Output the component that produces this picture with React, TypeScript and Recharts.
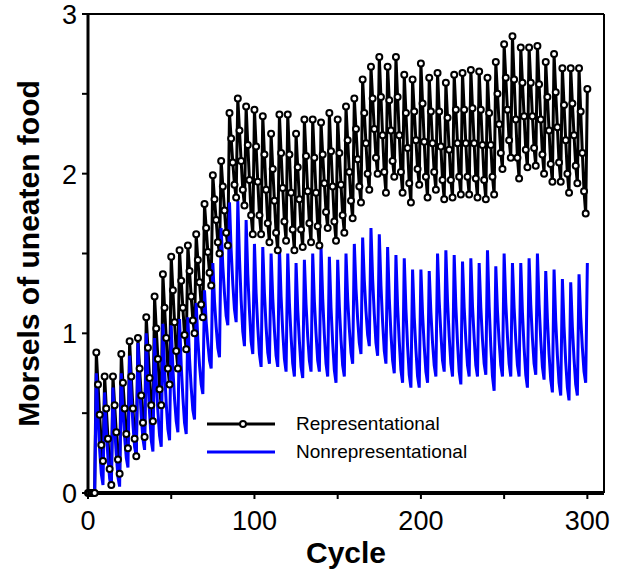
import { LineChart, Line, XAxis, YAxis, ReferenceLine, Label } from 'recharts';

// ── Data (one value per cycle, 0..300) ───────────────────────────────────────

const representational = [
  0, 0, 0, 0,
  0.00, 0.88, 0.68, 0.49, 0.30,
  0.20, 0.73, 0.53, 0.34, 0.15,
  0.05, 0.73, 0.55, 0.38, 0.21,
  0.12, 0.87, 0.69, 0.53, 0.37,
  0.28, 0.95, 0.73, 0.53, 0.34,
  0.23, 0.97, 0.78, 0.61, 0.44,
  0.35, 1.10, 0.91, 0.72, 0.55,
  0.45, 1.23, 1.03, 0.84, 0.65,
  0.55, 1.37, 1.16, 0.97, 0.78,
  0.68, 1.48, 1.27, 1.07, 0.89,
  0.78, 1.52, 1.33, 1.16, 0.99,
  0.90, 1.55, 1.39, 1.23, 1.08,
  1.00, 1.62, 1.46, 1.32, 1.18,
  1.10, 1.81, 1.66, 1.51, 1.38,
  1.30, 1.99, 1.84, 1.71, 1.57,
  1.50, 2.08, 1.92, 1.77, 1.63,
  1.55, 2.38, 2.22, 2.07, 1.93,
  1.85, 2.47, 2.27, 2.08, 1.90,
  1.80, 2.42, 2.18, 1.96, 1.74,
  1.62, 2.40, 2.17, 1.95, 1.74,
  1.62, 2.36, 2.12, 1.90, 1.69,
  1.57, 2.25, 2.03, 1.83, 1.63,
  1.52, 2.37, 2.13, 1.91, 1.70,
  1.58, 2.37, 2.12, 1.88, 1.65,
  1.52, 2.25, 2.04, 1.84, 1.65,
  1.54, 2.34, 2.11, 1.89, 1.69,
  1.57, 2.34, 2.10, 1.88, 1.67,
  1.55, 2.32, 2.12, 1.94, 1.76,
  1.66, 2.38, 2.14, 1.92, 1.70,
  1.58, 2.34, 2.13, 1.93, 1.74,
  1.63, 2.42, 2.21, 2.01, 1.83,
  1.72, 2.47, 2.28, 2.09, 1.92,
  1.82, 2.59, 2.38, 2.19, 2.00,
  1.90, 2.67, 2.47, 2.28, 2.10,
  2.00, 2.73, 2.48, 2.24, 2.01,
  1.88, 2.67, 2.46, 2.27, 2.08,
  1.98, 2.73, 2.48, 2.24, 2.01,
  1.88, 2.62, 2.38, 2.16, 1.94,
  1.82, 2.59, 2.39, 2.21, 2.03,
  1.93, 2.69, 2.44, 2.20, 1.98,
  1.85, 2.60, 2.39, 2.19, 2.01,
  1.90, 2.63, 2.39, 2.17, 1.96,
  1.84, 2.57, 2.35, 2.15, 1.96,
  1.85, 2.62, 2.40, 2.19, 1.98,
  1.87, 2.63, 2.40, 2.19, 1.98,
  1.87, 2.65, 2.41, 2.19, 1.97,
  1.85, 2.64, 2.40, 2.18, 1.96,
  1.84, 2.60, 2.38, 2.18, 1.98,
  1.87, 2.70, 2.50, 2.31, 2.13,
  2.03, 2.81, 2.60, 2.40, 2.21,
  2.10, 2.86, 2.59, 2.34, 2.10,
  1.97, 2.79, 2.57, 2.36, 2.15,
  2.04, 2.79, 2.57, 2.36, 2.16,
  2.05, 2.80, 2.56, 2.34, 2.12,
  2.00, 2.70, 2.48, 2.27, 2.06,
  1.95, 2.75, 2.51, 2.29, 2.07,
  1.95, 2.66, 2.43, 2.21, 2.00,
  1.88, 2.66, 2.44, 2.24, 2.05,
  1.94, 2.66, 2.39, 2.13, 1.89,
  1.75, 2.53,
];

const nonrepresentational = [
  0, 0, 0, 0,
  0.00, 0.75, 0.47, 0.27, 0.12,
  0.05, 0.63, 0.39, 0.22, 0.09,
  0.03, 0.66, 0.41, 0.24, 0.10,
  0.04, 0.75, 0.51, 0.35, 0.22,
  0.16, 0.86, 0.61, 0.43, 0.29,
  0.23, 0.94, 0.67, 0.48, 0.34,
  0.27, 1.00, 0.70, 0.50, 0.33,
  0.26, 0.97, 0.70, 0.51, 0.36,
  0.29, 1.06, 0.77, 0.56, 0.40,
  0.33, 1.05, 0.78, 0.59, 0.45,
  0.38, 1.09, 0.80, 0.60, 0.44,
  0.37, 1.10, 0.84, 0.66, 0.52,
  0.46, 1.19, 0.96, 0.80, 0.68,
  0.62, 1.27, 1.07, 0.94, 0.83,
  0.78, 1.44, 1.20, 1.04, 0.91,
  0.85, 1.66, 1.42, 1.25, 1.11,
  1.05, 1.82, 1.52, 1.31, 1.15,
  1.07, 1.83, 1.47, 1.21, 1.01,
  0.92, 1.71, 1.37, 1.14, 0.95,
  0.87, 1.56, 1.25, 1.04, 0.87,
  0.79, 1.54, 1.25, 1.04, 0.88,
  0.81, 1.50, 1.22, 1.02, 0.86,
  0.79, 1.54, 1.23, 1.01, 0.84,
  0.76, 1.50, 1.19, 0.98, 0.81,
  0.73, 1.44, 1.15, 0.95, 0.79,
  0.72, 1.46, 1.18, 0.98, 0.83,
  0.76, 1.50, 1.20, 1.00, 0.83,
  0.76, 1.54, 1.22, 0.99, 0.81,
  0.73, 1.48, 1.16, 0.94, 0.77,
  0.69, 1.46, 1.17, 0.96, 0.80,
  0.73, 1.50, 1.22, 1.03, 0.88,
  0.81, 1.56, 1.28, 1.09, 0.94,
  0.87, 1.60, 1.33, 1.14, 0.99,
  0.92, 1.66, 1.34, 1.12, 0.94,
  0.86, 1.62, 1.30, 1.07, 0.89,
  0.81, 1.54, 1.22, 1.00, 0.83,
  0.75, 1.49, 1.17, 0.95, 0.77,
  0.69, 1.47, 1.15, 0.92, 0.74,
  0.66, 1.40, 1.10, 0.90, 0.73,
  0.66, 1.40, 1.12, 0.92, 0.76,
  0.69, 1.39, 1.13, 0.94, 0.80,
  0.73, 1.50, 1.20, 1.00, 0.83,
  0.76, 1.52, 1.20, 0.98, 0.81,
  0.73, 1.49, 1.17, 0.94, 0.76,
  0.68, 1.45, 1.16, 0.96, 0.80,
  0.73, 1.47, 1.17, 0.97, 0.80,
  0.73, 1.44, 1.16, 0.96, 0.81,
  0.74, 1.52, 1.17, 0.92, 0.73,
  0.64, 1.42, 1.14, 0.95, 0.80,
  0.73, 1.50, 1.19, 0.98, 0.81,
  0.73, 1.44, 1.16, 0.96, 0.80,
  0.73, 1.44, 1.13, 0.91, 0.74,
  0.66, 1.47, 1.18, 0.97, 0.81,
  0.74, 1.50, 1.18, 0.96, 0.79,
  0.71, 1.39, 1.09, 0.87, 0.71,
  0.63, 1.40, 1.08, 0.86, 0.69,
  0.61, 1.34, 1.04, 0.82, 0.66,
  0.58, 1.32, 1.04, 0.84, 0.68,
  0.61, 1.37, 1.10, 0.91, 0.76,
  0.69, 1.44,
];

const xTicks = [0, 50, 100, 150, 200, 250, 300];
const xLabels = [0, 100, 200, 300];
const yTicks = [0, 0.5, 1, 1.5, 2, 2.5, 3];
const yLabels = [0, 1, 2, 3];

const data = representational.map((rep, i) => ({ cycle: i, rep, non: nonrepresentational[i] }));

const FONT = 'Liberation Sans, Arial, sans-serif';

// ── Ticks ─────────────────────────────────────────────────────────────────────

function XTick({ x, y, payload }: any) {
  if (!xLabels.includes(payload.value)) return null;
  return (
    <text x={x} y={y} dy={29} textAnchor="middle" fontFamily={FONT} fontSize={27} fill="#000">
      {payload.value}
    </text>
  );
}

function YTick({ x, y, payload }: any) {
  if (!yLabels.includes(payload.value)) return null;
  return (
    <text x={x} y={y} dx={-3} dy={10} textAnchor="end" fontFamily={FONT} fontSize={27} fill="#000">
      {payload.value}
    </text>
  );
}

// ── Legend ────────────────────────────────────────────────────────────────────

function LegendBox() {
  const row = { display: 'flex', alignItems: 'center', height: 28 } as const;
  const text = { fontFamily: FONT, fontSize: 19, color: '#000', marginLeft: 20 };
  return (
    <div style={{ position: 'absolute', left: 206, top: 410 }}>
      <div style={row}>
        <svg width={70} height={12}>
          <line x1={1} y1={6} x2={69} y2={6} stroke="#000" strokeWidth={3} />
          <circle cx={37} cy={6} r={3} fill="#fff" stroke="#000" strokeWidth={2} />
        </svg>
        <span style={text}>Representational</span>
      </div>
      <div style={row}>
        <svg width={70} height={12}>
          <line x1={1} y1={6} x2={69} y2={6} stroke="#0000ff" strokeWidth={3} />
        </svg>
        <span style={text}>Nonrepresentational</span>
      </div>
    </div>
  );
}

// ── Main ──────────────────────────────────────────────────────────────────────

export default function App() {
  return (
    <div style={{ position: 'absolute', left: 0, top: 0, width: 618, height: 571, background: '#fff' }}>
      <LineChart width={618} height={571} data={data} margin={{ top: 14, right: 14, left: 0, bottom: 0 }}>
        <XAxis
          dataKey="cycle"
          type="number"
          domain={[0, 310]}
          ticks={xTicks}
          tick={<XTick />}
          tickSize={6}
          height={78}
          axisLine={{ stroke: '#000', strokeWidth: 4 }}
          tickLine={{ stroke: '#000', strokeWidth: 2 }}
        >
          <Label
            content={({ viewBox }: any) => (
              <text
                x={viewBox.x + viewBox.width / 2}
                y={viewBox.y + 70}
                textAnchor="middle"
                fontFamily={FONT}
                fontWeight="bold"
                fontSize={30}
                fill="#000"
              >
                Cycle
              </text>
            )}
          />
        </XAxis>
        <YAxis
          type="number"
          domain={[0, 3]}
          ticks={yTicks}
          tick={<YTick />}
          tickSize={6}
          width={88}
          axisLine={{ stroke: '#000', strokeWidth: 3 }}
          tickLine={{ stroke: '#000', strokeWidth: 2 }}
        >
          <Label
            content={({ viewBox }: any) => {
              const cx = viewBox.x + 28;
              const cy = viewBox.y + viewBox.height / 2;
              return (
                <text
                  x={cx}
                  y={cy}
                  transform={`rotate(-90 ${cx} ${cy})`}
                  textAnchor="middle"
                  dominantBaseline="central"
                  fontFamily={FONT}
                  fontWeight="bold"
                  fontSize={30}
                  fill="#000"
                >
                  Morsels of uneaten food
                </text>
              );
            }}
          />
        </YAxis>
        <ReferenceLine y={3} stroke="#000" strokeWidth={2} />
        <ReferenceLine x={310} stroke="#000" strokeWidth={2} />
        <Line
          dataKey="rep"
          type="linear"
          stroke="#000"
          strokeWidth={3}
          dot={{ r: 3, fill: '#fff', stroke: '#000', strokeWidth: 2 }}
          isAnimationActive={false}
        />
        <Line
          dataKey="non"
          type="linear"
          stroke="#0000ff"
          strokeWidth={3}
          dot={false}
          isAnimationActive={false}
        />
      </LineChart>
      <LegendBox />
    </div>
  );
}
